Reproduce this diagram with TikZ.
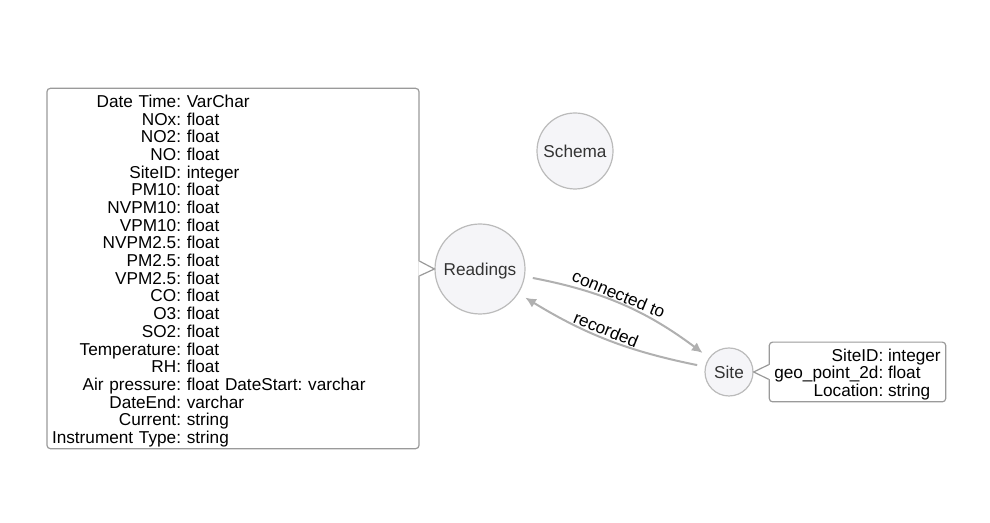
\documentclass[tikz,border=0pt]{standalone}
\usepackage{fontspec}
\setmainfont{Liberation Sans}
\usetikzlibrary{arrows.meta}
\definecolor{edgegray}{HTML}{B0B0B0}
\definecolor{nodefill}{HTML}{F5F5F8}
\definecolor{nodeline}{HTML}{BBBBBB}
\definecolor{boxline}{HTML}{9A9A9A}
\definecolor{labeltext}{HTML}{333333}
\tikzstyle{entity} = [circle, inner sep=0pt, draw=nodeline, fill=nodefill, text=labeltext, line width=0.9pt, text height=9.2pt, text depth=0pt]
\tikzstyle{attrbox} = [rectangle, rounded corners=2.5pt, draw=boxline, fill=white, line width=0.9pt, inner xsep=3.75pt, inner ysep=2.5pt, align=left]
\tikzstyle{callout} = [draw=boxline, line width=0.9pt]
\tikzstyle{link} = [line width=1.5pt, draw=edgegray, ->, >={Latex[length=8pt,width=7.5pt]}, shorten >=6pt, shorten <=6pt]
\tikzstyle{linklabel} = [sloped, above, inner sep=1pt, text=black]
\newcommand{\fieldlist}[1]{\raisebox{-2.5pt}[\height][\depth]{\begin{tabular}{@{}r@{ }l@{}}#1\end{tabular}}}

\begin{document}
\begin{tikzpicture}[x=0.75pt, y=0.75pt, font=\fontsize{12.9}{13.05}\selectfont\frenchspacing]

\useasboundingbox (0,0) rectangle (990,523);

\node (rbox) [attrbox, text width=271.5pt, minimum height=269.25pt] at (233,254.5) {\fieldlist{
Date Time: & VarChar\\
NOx: & float\\
NO2: & float\\
NO: & float\\
SiteID: & integer\\
PM10: & float\\
NVPM10: & float\\
VPM10: & float\\
NVPM2.5: & float\\
PM2.5: & float\\
VPM2.5: & float\\
CO: & float\\
O3: & float\\
SO2: & float\\
Temperature: & float\\
RH: & float\\
Air pressure: & float DateStart: varchar\\
DateEnd: & varchar\\
Current: & string\\
Instrument Type: & string}};

\node (sbox) [attrbox] at (857.5,151) {\fieldlist{
SiteID: & integer\\
geo\_point\_2d: & float\\
Location: & string}};

\node (readings) [entity, minimum size=67.5pt] at (480,254) {Readings};
\node (schema) [entity, minimum size=57pt] at (575,372) {Schema};
\node (site) [entity, minimum size=36pt] at (729,151) {Site};

% callouts
\fill[white] ([xshift=-1pt,yshift=5.5pt]rbox.east) -- (readings.west) -- ([xshift=-1pt,yshift=-5.5pt]rbox.east) -- cycle;
\draw [callout] ([yshift=5.5pt]rbox.east) -- (readings.west) -- ([yshift=-5.5pt]rbox.east);
\fill[white] ([xshift=1pt,yshift=5.5pt]sbox.west) -- (site.east) -- ([xshift=1pt,yshift=-5.5pt]sbox.west) -- cycle;
\draw [callout] ([yshift=5.5pt]sbox.west) -- (site.east) -- ([yshift=-5.5pt]sbox.west);

\draw [link] (readings) to[bend left=13] node[linklabel, pos=0.46] {connected to} (site);
\draw [link] (site) to[bend left=10] node[linklabel, pos=0.53] {recorded} (readings);

\end{tikzpicture}
\end{document}
